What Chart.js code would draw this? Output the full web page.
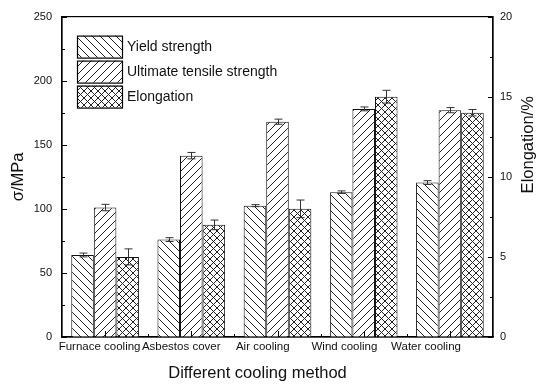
<!DOCTYPE html>
<html>
<head>
<meta charset="utf-8">
<script src="https://cdn.jsdelivr.net/npm/chart.js@4.4.1/dist/chart.umd.min.js"></script>
<style>
  html, body { margin: 0; padding: 0; background: #fff; }
  canvas { display: block; }
</style>
</head>
<body>
<canvas id="chart" width="550" height="391"></canvas>
<script>
// data
const categories = ['Furnace cooling', 'Asbestos cover', 'Air cooling', 'Wind cooling', 'Water cooling'];
const yieldStrength = [64, 76, 102.5, 113, 120.5];
const yieldErr = [1.5, 1.5, 0.8, 1, 1.5];
const tensileStrength = [101, 141.5, 168, 178, 177];
const tensileErr = [2.5, 2.5, 2, 1.5, 2];
const elongation = [5.0, 7.0, 8.0, 15.0, 14.0];
const elongationErr = [0.5, 0.3, 0.55, 0.4, 0.2];
const stressTicks = [0, 50, 100, 150, 200, 250];
const elongTicks = [0, 5, 10, 15, 20];

const FONT = '"Liberation Sans", Arial, sans-serif';
const INK = '#111';

// hatch fills
function hatch(kind, size) {
  const c = document.createElement('canvas');
  c.width = size; c.height = size;
  const g = c.getContext('2d');
  g.fillStyle = '#fff';
  g.fillRect(0, 0, size, size);
  g.strokeStyle = '#222';
  g.lineWidth = 1;
  g.beginPath();
  for (let x0 = -size; x0 <= size; x0 += size) {
    if (kind === 'back' || kind === 'cross') {
      g.moveTo(x0, 0); g.lineTo(x0 + size, size);
    }
    if (kind === 'fwd' || kind === 'cross') {
      g.moveTo(x0, size); g.lineTo(x0 + size, 0);
    }
  }
  g.stroke();
  return document.createElement('canvas').getContext('2d').createPattern(c, 'repeat');
}

const errors = [yieldErr, tensileErr, elongationErr];

// error bars drawn through each bar's own scale
const errorBars = {
  id: 'errorBars',
  afterDatasetsDraw(chart) {
    const ctx = chart.ctx;
    ctx.save();
    ctx.strokeStyle = '#333';
    ctx.lineWidth = 1;
    chart.data.datasets.forEach((ds, i) => {
      const meta = chart.getDatasetMeta(i);
      const scale = chart.scales[meta.yAxisID];
      meta.data.forEach((bar, j) => {
        const v = ds.data[j], e = errors[i][j];
        const yt = scale.getPixelForValue(v + e);
        const yb = scale.getPixelForValue(v - e);
        const x = Math.round(bar.x) + 0.5;
        ctx.beginPath();
        ctx.moveTo(x, yt); ctx.lineTo(x, yb);
        ctx.moveTo(x - 4, yt); ctx.lineTo(x + 4, yt);
        ctx.moveTo(x - 4, yb); ctx.lineTo(x + 4, yb);
        ctx.stroke();
      });
    });
    ctx.restore();
  }
};

// frame, inward ticks, category labels, legend, titles
const frame = {
  id: 'frame',
  afterDraw(chart) {
    const ctx = chart.ctx;
    const a = chart.chartArea;
    const xs = chart.scales.x, ys = chart.scales.y, y1 = chart.scales.y1;
    ctx.save();
    ctx.strokeStyle = '#000';
    ctx.lineWidth = 1.2;
    ctx.strokeRect(a.left, a.top, a.right - a.left, a.bottom - a.top);

    ctx.lineWidth = 1;
    ctx.beginPath();
    // left axis
    const sv = ys.ticks.map(t => t.value);
    sv.forEach((v, k) => {
      const p = Math.round(ys.getPixelForValue(v)) + 0.5;
      ctx.moveTo(a.left, p); ctx.lineTo(a.left + 5, p);
      if (k < sv.length - 1) {
        const m = Math.round(ys.getPixelForValue((v + sv[k + 1]) / 2)) + 0.5;
        ctx.moveTo(a.left, m); ctx.lineTo(a.left + 3, m);
      }
    });
    // right axis
    const ev = y1.ticks.map(t => t.value);
    ev.forEach((v, k) => {
      const p = Math.round(y1.getPixelForValue(v)) + 0.5;
      ctx.moveTo(a.right, p); ctx.lineTo(a.right - 5, p);
      if (k < ev.length - 1) {
        const m = Math.round(y1.getPixelForValue((v + ev[k + 1]) / 2)) + 0.5;
        ctx.moveTo(a.right, m); ctx.lineTo(a.right - 3, m);
      }
    });
    // bottom axis
    categories.forEach((c, i) => {
      const p = Math.round(xs.getPixelForValue(i)) + 0.5;
      ctx.moveTo(p, a.bottom); ctx.lineTo(p, a.bottom - 6);
      if (i < categories.length - 1) {
        const m = Math.round((xs.getPixelForValue(i) + xs.getPixelForValue(i + 1)) / 2) + 0.5;
        ctx.moveTo(m, a.bottom); ctx.lineTo(m, a.bottom - 3);
      }
    });
    ctx.stroke();

    // category labels: the original sits them a little left of each tick,
    // drifting further left towards the right end
    ctx.fillStyle = INK;
    ctx.font = '11.5px ' + FONT;
    ctx.textAlign = 'center';
    ctx.textBaseline = 'middle';
    categories.forEach((c, i) => {
      ctx.fillText(c, xs.getPixelForValue(i) - 5.5 - 4.6 * i, a.bottom + 10);
    });

    // x axis title
    ctx.font = '16.5px ' + FONT;
    ctx.fillText('Different cooling method', (a.left + a.right) / 2 - 20, a.bottom + 36);

    // legend
    ctx.font = '14px ' + FONT;
    ctx.textAlign = 'left';
    chart.data.datasets.forEach((ds, i) => {
      const bx = a.left + 15, by = a.top + 19 + i * 25;
      ctx.fillStyle = ds.backgroundColor;
      ctx.fillRect(bx, by, 45, 22);
      ctx.strokeStyle = '#000';
      ctx.lineWidth = 1.2;
      ctx.strokeRect(bx + 0.5, by + 0.5, 45, 22);
      ctx.fillStyle = INK;
      ctx.fillText(ds.label, bx + 50, by + 12);
    });

    // right axis title (reads bottom to top)
    ctx.save();
    ctx.translate(a.right + 35, a.top + (a.bottom - a.top) * 0.4);
    ctx.rotate(-Math.PI / 2);
    ctx.font = '16.5px ' + FONT;
    ctx.textAlign = 'center';
    ctx.fillStyle = INK;
    ctx.fillText('Elongation/%', 0, 0);
    ctx.restore();

    ctx.restore();
  }
};

new Chart(document.getElementById('chart').getContext('2d'), {
  type: 'bar',
  data: {
    labels: categories,
    datasets: [
      { label: 'Yield strength', data: yieldStrength, yAxisID: 'y',
        backgroundColor: hatch('back', 8), borderColor: '#111', borderWidth: 1 },
      { label: 'Ultimate tensile strength', data: tensileStrength, yAxisID: 'y',
        backgroundColor: hatch('fwd', 8), borderColor: '#111', borderWidth: 1 },
      { label: 'Elongation', data: elongation, yAxisID: 'y1',
        backgroundColor: hatch('cross', 7), borderColor: '#111', borderWidth: 1 }
    ]
  },
  options: {
    responsive: false,
    animation: false,
    categoryPercentage: 0.785,
    barPercentage: 1,
    layout: { padding: { top: 14, left: 0, right: 0, bottom: 0 } },
    plugins: { legend: { display: false }, tooltip: { enabled: false } },
    scales: {
      x: {
        grid: { display: false, drawTicks: false },
        border: { display: true, color: '#000', width: 1.2 },
        ticks: { display: false },
        afterFit: s => { s.height = 54; }
      },
      y: {
        position: 'left',
        min: stressTicks[0], max: stressTicks[stressTicks.length - 1],
        afterBuildTicks: s => { s.ticks = stressTicks.map(v => ({ value: v })); },
        grid: { display: false, drawTicks: false },
        border: { display: true, color: '#000', width: 1.2 },
        ticks: { color: INK, font: { family: FONT, size: 11 }, padding: 10 },
        title: { display: true, text: 'σ/MPa', color: INK,
                 font: { family: FONT, size: 16.5 }, padding: { top: 9, bottom: 0 } },
        afterFit: s => { s.width = 62; }
      },
      y1: {
        position: 'right',
        min: elongTicks[0], max: elongTicks[elongTicks.length - 1],
        afterBuildTicks: s => { s.ticks = elongTicks.map(v => ({ value: v })); },
        grid: { display: false, drawTicks: false },
        border: { display: true, color: '#000', width: 1.2 },
        ticks: { color: INK, font: { family: FONT, size: 11 }, padding: 7 },
        afterFit: s => { s.width = 57; }
      }
    }
  },
  plugins: [errorBars, frame]
});
</script>
</body>
</html>
